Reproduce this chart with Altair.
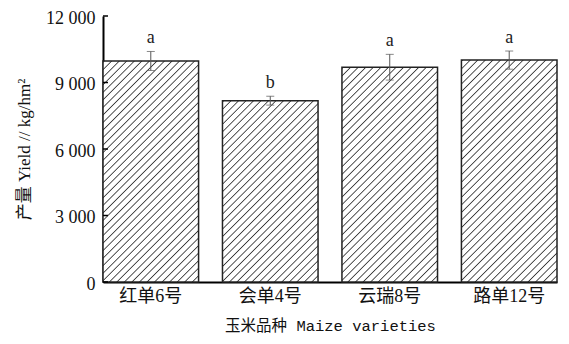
import math
import altair as alt
import pandas as pd

varieties = ["红单6号", "会单4号", "云瑞8号", "路单12号"]
yields = [9970, 8180, 9690, 10010]
errors = [430, 200, 580, 410]
letters = ["a", "b", "a", "a"]
y_ticks = [0, 3000, 6000, 9000, 12000]

df = pd.DataFrame({"variety": varieties, "yield": yields, "err": errors, "letter": letters})
df["lo"] = df["yield"] - df["err"]
df["hi"] = df["yield"] + df["err"]
ticks_df = pd.DataFrame({"t": y_ticks})

W, H = 454, 266
YMAX = 12000
PAD_INNER = 0.2
step = W / (len(varieties) - PAD_INNER)
bw = step * (1 - PAD_INNER)

SERIF = "Liberation Serif, Noto Sans CJK SC"
MONO = "Liberation Mono, Noto Sans CJK SC"


def hatch(h, w=bw, s=5.3, lw=1.7, color="#3a3a3a"):
    c = (1 / h + 1 / w) / (1 / h ** 2 + 1 / w ** 2)
    a, b = c / h, c / w
    n = int(round((w + h) / (math.sqrt(2) * s)))
    p = 1.0 / n
    f = lw / s * p
    stops = [{"offset": 0, "color": "white"}]
    for k in range(n):
        o = k * p
        stops += [
            {"offset": min(o + f / 2, 1), "color": color},
            {"offset": min(o + f, 1), "color": "white"},
            {"offset": min(o + p, 1), "color": "white"},
        ]
    return {"gradient": "linear", "x1": 0, "y1": 0, "x2": a, "y2": b, "stops": stops}


x_enc = alt.X(
    "variety:N",
    sort=varieties,
    scale=alt.Scale(paddingInner=PAD_INNER, paddingOuter=0),
    axis=alt.Axis(
        title="玉米品种 Maize varieties",
        titleFont=MONO,
        titleFontSize=15.5,
        titleFontWeight="normal",
        titleColor="#111",
        titlePadding=13,
        labelFont=SERIF,
        labelFontSize=18,
        labelColor="#111",
        labelAngle=0,
        labelPadding=5,
        ticks=False,
        domainColor="#000",
        domainWidth=2,
    ),
)
y_scale = alt.Scale(domain=[0, YMAX], nice=False)
y_enc = alt.Y(
    "yield:Q",
    scale=y_scale,
    axis=alt.Axis(
        title="产量 Yield // kg/hm²",
        titleFont=SERIF,
        titleFontSize=17,
        titleFontWeight="normal",
        titleColor="#111",
        titlePadding=12,
        values=y_ticks,
        labelExpr="replace(format(datum.value, ','), ',', ' ')",
        labelFont=SERIF,
        labelFontSize=18,
        labelColor="#111",
        labelPadding=8,
        labelOffset=2,
        ticks=False,
        grid=False,
        domainColor="#000",
        domainWidth=2,
    ),
)

base = alt.Chart(df)
layers = []
for v, val in zip(varieties, yields):
    h = val / YMAX * H
    layers.append(
        base.transform_filter(alt.datum.variety == v)
        .mark_bar(fill=hatch(h), stroke="#222", strokeWidth=1.5)
        .encode(x=x_enc, y=y_enc)
    )

err_rule = base.mark_rule(color="#555", strokeWidth=1).encode(
    x=alt.X("variety:N", sort=varieties), y=alt.Y("lo:Q", scale=y_scale), y2="hi:Q"
)
cap_lo = base.mark_tick(color="#555", thickness=1, size=8, orient="horizontal").encode(
    x=alt.X("variety:N", sort=varieties), y=alt.Y("lo:Q", scale=y_scale)
)
cap_hi = base.mark_tick(color="#555", thickness=1, size=8, orient="horizontal").encode(
    x=alt.X("variety:N", sort=varieties), y=alt.Y("hi:Q", scale=y_scale)
)
labels = base.mark_text(
    font=SERIF, fontSize=18, color="#222", baseline="bottom", dy=-4
).encode(x=alt.X("variety:N", sort=varieties), y=alt.Y("hi:Q", scale=y_scale), text="letter:N")

inner_ticks = alt.Chart(ticks_df).mark_rule(color="#000", strokeWidth=1.5).encode(
    y=alt.Y("t:Q", scale=y_scale), x=alt.value(0), x2=alt.value(5)
)

chart = (
    alt.layer(*layers, err_rule, cap_lo, cap_hi, labels, inner_ticks)
    .properties(
        width=W,
        height=H,
        autosize=alt.AutoSizeParams(type="none"),
        padding={"left": 95, "top": 8, "right": 4, "bottom": 54},
        background="white",
    )
    .configure_view(stroke=None)
)

chart.save("out.html", embed_options={"renderer": "svg", "actions": False})
